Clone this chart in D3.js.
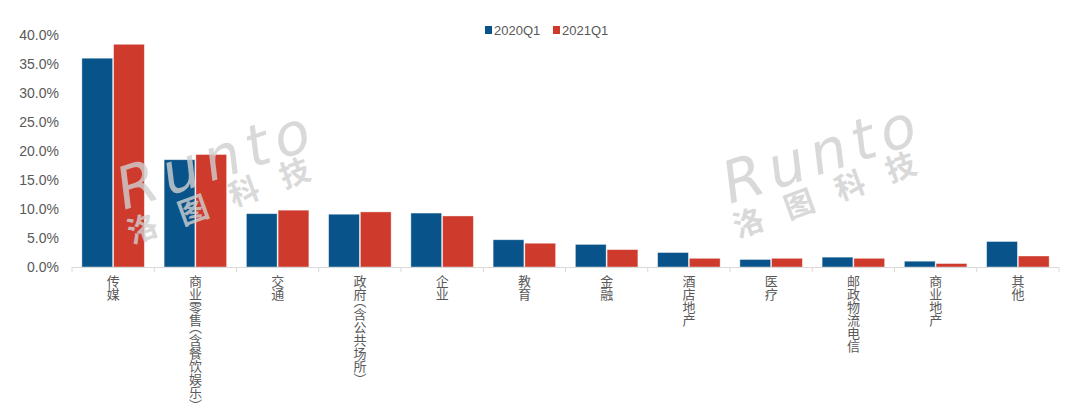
<!DOCTYPE html>
<html><head><meta charset="utf-8">
<script src="https://cdn.jsdelivr.net/npm/d3@7"></script>
<style>
html,body{margin:0;padding:0;background:#fff;}
svg{display:block;font-family:"Liberation Sans","Noto Sans CJK SC",sans-serif;}
.xlab{writing-mode:vertical-rl;text-orientation:mixed;font-family:"Noto Sans CJK SC",sans-serif;font-size:13px;}
.paren{font-feature-settings:"vhal" 1;}
</style></head>
<body>
<svg id="chart" width="1080" height="416"></svg>
<script>
const categories = ["传媒","商业零售（含餐饮娱乐）","交通","政府（含公共场所）","企业","教育","金融","酒店地产","医疗","邮政物流电信","商业地产","其他"];
const seriesNames = ["2020Q1","2021Q1"];
const values2020Q1 = [0.360,0.185,0.092,0.091,0.093,0.047,0.039,0.025,0.013,0.017,0.010,0.044];
const values2021Q1 = [0.384,0.194,0.098,0.095,0.088,0.041,0.030,0.015,0.015,0.015,0.006,0.019];
const yTicks = [0,0.05,0.10,0.15,0.20,0.25,0.30,0.35,0.40];
const colors = ["#08548a","#ce3b2c"];

(function(){
const svg = d3.select("#chart");
const mLeft = 72, mRight = 1059, mTop = 35, mBottom = 267;

const x0 = d3.scaleBand().domain(categories).range([mLeft, mRight]).paddingInner(0.24).paddingOuter(0.12);
const x1 = d3.scaleBand().domain(seriesNames).range([0, x0.bandwidth()]).paddingInner(0.03);
const y = d3.scaleLinear().domain([0, 0.40]).range([mBottom, mTop]);

const series = [values2020Q1, values2021Q1];

// bars
const g = svg.append("g");
categories.forEach((c, i) => {
  seriesNames.forEach((s, j) => {
    g.append("rect")
      .attr("x", x0(c) + x1(s))
      .attr("y", y(series[j][i]))
      .attr("width", x1.bandwidth())
      .attr("height", y(0) - y(series[j][i]))
      .attr("fill", colors[j])
      .attr("stroke", "#ffffff").attr("stroke-opacity", 0.5).attr("stroke-width", 0.8);
  });
});

// y axis labels
const yAxis = d3.axisLeft(y).tickValues(yTicks).tickFormat(d3.format(".1%")).tickSize(0).tickPadding(0);
const ya = svg.append("g").attr("transform", `translate(59,0)`).call(yAxis);
ya.select(".domain").remove();
ya.selectAll("text").attr("fill", "#595959").style("font-size", "14px")
  .style("font-family", '"Liberation Sans",sans-serif');

// x axis line with boundary ticks
svg.append("line").attr("x1", mLeft).attr("x2", mRight).attr("y1", mBottom + 0.5).attr("y2", mBottom + 0.5)
  .attr("stroke", "#d9d9d9").attr("stroke-width", 1);
const step = x0.step();
const bounds = d3.range(categories.length + 1).map(i => mLeft + i*step);
svg.selectAll(".btick").data(bounds).join("line")
  .attr("x1", d => d).attr("x2", d => d).attr("y1", mBottom).attr("y2", mBottom + 5)
  .attr("stroke", "#d9d9d9");

// x labels: vertical writing mode, half-width vertical parentheses
categories.forEach(c => {
  const cx = x0(c) + x0.bandwidth()/2;
  const t = svg.append("text").attr("class", "xlab")
    .attr("x", cx).attr("y", 275)
    .attr("fill", "#595959");
  const parts = c.split(/([（）])/).filter(p => p.length);
  parts.forEach(p => {
    const sp = t.append("tspan").text(p);
    if (p === "（" || p === "）") sp.attr("class", "paren");
  });
});

// legend
const lg = svg.append("g");
const legendX = [485, 553];
seriesNames.forEach((s, j) => {
  lg.append("rect").attr("x", legendX[j]).attr("y", 26).attr("width", 7).attr("height", 8).attr("fill", colors[j]);
  lg.append("text").attr("x", legendX[j] + 9).attr("y", 35).text(s)
    .attr("fill", "#595959").style("font-size", "13px");
});

// watermarks
function watermark(x, yb) {
  const w = svg.append("g").attr("opacity", 0.8).style("pointer-events", "none");
  w.append("text").attr("transform", `translate(${x},${yb}) rotate(-18)`)
    .text("Runto").attr("fill", "#d0d0d0")
    .style("font-size", "58px").style("font-style", "italic")
    .style("font-family", '"DejaVu Sans",sans-serif').style("letter-spacing", "7px");
  w.append("text").attr("transform", `translate(${x+8},${yb+34}) rotate(-20)`)
    .text("洛图科技").attr("fill", "#d0d0d0")
    .style("font-size", "30px").style("font-weight", "700").style("letter-spacing", "24px")
    .style("font-family", '"Noto Sans CJK SC",sans-serif');
}
watermark(730, 204);
watermark(124, 210);
})();
</script>
</body></html>
